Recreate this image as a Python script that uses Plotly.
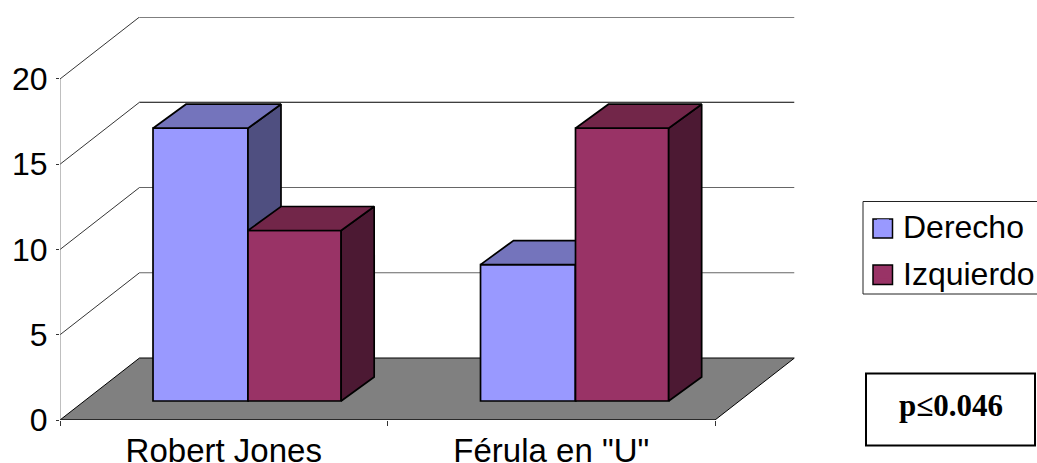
import plotly.graph_objects as go

# ---- data ----
categories = ["Robert Jones", 'Férula en "U"']
derecho = [16, 8]
izquierdo = [10, 16]
y_ticks = [0, 5, 10, 15, 20]
series_names = ["Derecho", "Izquierdo"]
series_front = ["#9999FF", "#993366"]

# ---- 3D look, in axis units ----
WALL_DX, WALL_DY = 0.2427, 3.636      # depth of the chart box
BAR_DX, BAR_DY = 0.1008, 1.408        # depth of a bar
BAR_BASE = 1.114                      # height of bar front above the axis
BAR_LEFT = 0.284                      # left edge of group inside its category
W_D, W_I = 0.29, 0.2845               # bar widths

W, H = 1037, 463
LINE = dict(color="black", width=1.7)

fig = go.Figure()


def scat(xs, ys, axes, fill=None, line=None):
    line = dict(line)
    fc = line.pop("fc", None)
    fig.add_trace(go.Scatter(
        x=xs, y=ys, mode="lines", fill=fill, fillcolor=fc,
        line=line, showlegend=False, hoverinfo="skip",
        xaxis=axes[0], yaxis=axes[1]))


n = len(categories)
# floor
scat([0, WALL_DX, n + WALL_DX, n, 0], [0, WALL_DY, WALL_DY, 0, 0], ("x", "y"),
     "toself", dict(color="black", width=1, fc="#808080"))
# walls
for v in y_ticks[1:]:
    c = "#000000" if v >= 15 else "#666666"
    scat([WALL_DX, n + WALL_DX], [v + WALL_DY, v + WALL_DY], ("x", "y"),
         line=dict(color=c, width=1))
    scat([0, WALL_DX], [v, v + WALL_DY], ("x", "y"), line=dict(color="black", width=0.8))
# front axis lines
scat([0, 0], [0, y_ticks[-1]], ("x", "y"), line=dict(color="#808080", width=1))
scat([0, n], [0, 0], ("x", "y"), line=dict(color="#2a2a2a", width=2))

# legend keys: borderless, sit on the larger bordered squares drawn as shapes
for name, colour in zip(series_names, series_front):
    fig.add_trace(go.Bar(x=[None], y=[None], name=name, legendgroup=name,
                         marker=dict(color=colour, line=dict(width=0)),
                         hoverinfo="skip"))


def series(values, left, width, front, top, side, axes):
    sx, sy, tx, ty = [], [], [], []
    for i, v in enumerate(values):
        x0 = i + left
        x1 = x0 + width
        b, t = BAR_BASE, BAR_BASE + v
        sx += [x1, x1 + BAR_DX, x1 + BAR_DX, x1, x1, None]
        sy += [b, b + BAR_DY, t + BAR_DY, t, b, None]
        tx += [x0, x0 + BAR_DX, x1 + BAR_DX, x1, x0, None]
        ty += [t, t + BAR_DY, t + BAR_DY, t, t, None]
    scat(sx, sy, axes, "toself", dict(LINE, fc=side))
    scat(tx, ty, axes, "toself", dict(LINE, fc=top))
    fig.add_trace(go.Bar(
        x=[i + left + width / 2 for i in range(len(values))], y=values,
        base=[BAR_BASE] * len(values), width=width, showlegend=False,
        marker=dict(color=front, line=LINE), hoverinfo="skip",
        xaxis=axes[0], yaxis=axes[1]))


series(derecho, BAR_LEFT, W_D, series_front[0], "#7474BC", "#4F4F80", ("x2", "y2"))
series(izquierdo, BAR_LEFT + W_D, W_I, series_front[1], "#722649", "#4C1933", ("x3", "y3"))

x_rng = [0, n + WALL_DX]
y_rng = [0, y_ticks[-1] + WALL_DY]
x_dom = [60 / W, 794.5 / W]
y_dom = [(H - 420) / H, (H - 17) / H]
hidden = dict(visible=False, range=x_rng, domain=x_dom, fixedrange=True)
hiddeny = dict(visible=False, range=y_rng, domain=y_dom, fixedrange=True)


def px_rect(x0, y0, x1, y1, **kw):
    return dict(type="rect", xref="paper", yref="paper", x0=x0 / W, x1=x1 / W,
                y0=(H - y1) / H, y1=(H - y0) / H, **kw)


shapes = [
    px_rect(863, 201.5, 1040, 294, line=dict(color="#222222", width=1), fillcolor="white", layer="below"),
    px_rect(873, 219, 892.5, 238, line=dict(color="black", width=1.5), fillcolor=series_front[0], layer="above"),
    px_rect(873, 265, 892.5, 284.5, line=dict(color="black", width=1.5), fillcolor=series_front[1], layer="above"),
    px_rect(866, 373.5, 1035, 445.5, line=dict(color="black", width=2), fillcolor="white", layer="below"),
]

fig.update_layout(
    width=W, height=H, autosize=False, template="none",
    margin=dict(l=0, r=0, t=0, b=0, pad=0, autoexpand=False),
    paper_bgcolor="white", plot_bgcolor="rgba(0,0,0,0)",
    font=dict(family="Liberation Sans, Arial, sans-serif", color="black", size=31),
    barmode="overlay",
    xaxis=dict(range=x_rng, domain=x_dom, tickmode="array", automargin=False,
               tickvals=[i + 0.5 for i in range(n)], ticktext=categories,
               ticks="", showgrid=False, zeroline=False, showline=False,
               tickfont=dict(size=33), ticklabelstandoff=8,
               minor=dict(tickmode="array", tickvals=list(range(n + 1)), ticks="outside",
                          ticklen=5, tickwidth=1, tickcolor="#333333", showgrid=False)),
    yaxis=dict(range=y_rng, domain=y_dom, tickmode="array", tickvals=y_ticks, automargin=False,
               ticks="outside", ticklen=3, tickwidth=1, tickcolor="#333333",
               showgrid=False, zeroline=False, showline=False,
               tickfont=dict(size=32), ticklabelstandoff=2),
    xaxis2=dict(hidden, overlaying="x", anchor="y2"),
    yaxis2=dict(hiddeny, overlaying="y", anchor="x2"),
    xaxis3=dict(hidden, overlaying="x", anchor="y3"),
    yaxis3=dict(hiddeny, overlaying="y", anchor="x3"),
    legend=dict(x=863 / W, xanchor="left", y=(H - 198) / H, yanchor="top",
                borderwidth=0, bgcolor="rgba(0,0,0,0)", tracegroupgap=3,
                font=dict(size=32), traceorder="grouped", itemclick=False,
                itemdoubleclick=False),
    shapes=shapes,
    annotations=[dict(text="<b>p≤0.046</b>", xref="paper", yref="paper",
                      x=950.5 / W, y=(H - 405) / H, showarrow=False,
                      xanchor="center", yanchor="middle",
                      font=dict(family="Liberation Serif, Times New Roman, serif", size=31))],
)

fig.write_html("out.html", config=dict(displayModeBar=False),
               post_script="document.body.style.margin='0';document.documentElement.style.overflow='hidden';")
